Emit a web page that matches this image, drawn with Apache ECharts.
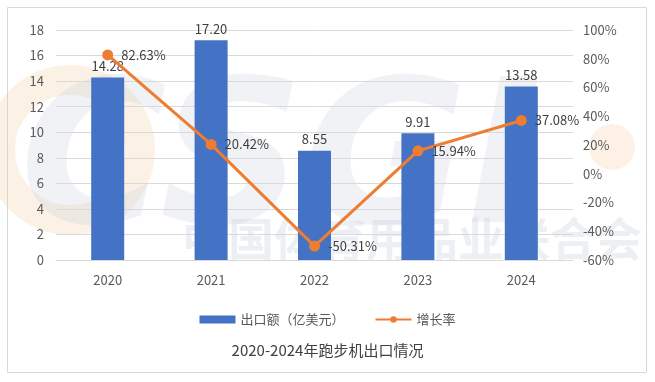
<!DOCTYPE html>
<html><head><meta charset="utf-8">
<script src="https://cdn.jsdelivr.net/npm/echarts@6/dist/echarts.min.js"></script>
<style>html,body{margin:0;padding:0;background:#fff}#c{width:655px;height:382px}</style>
</head><body><div id="c"></div>
<script>
const categories = ['2020','2021','2022','2023','2024'];
const exportValues = [14.28, 17.20, 8.55, 9.91, 13.58];
const growthRates = [82.63, 20.42, -50.31, 15.94, 37.08];
const leftTicks = [0,2,4,6,8,10,12,14,16,18];
const rightTicks = [-60,-40,-20,0,20,40,60,80,100];
const barName = '出口额（亿美元）';
const lineName = '增长率';
const titleText = '2020-2024年跑步机出口情况';

const font = '"Microsoft YaHei","Noto Sans CJK SC",sans-serif';
const chart = echarts.init(document.getElementById('c'));
chart.setOption({
  animation: false,
  textStyle: {fontFamily: font},
  graphic: [
    {type:'rect', shape:{x:7.5,y:7.5,width:639,height:365}, style:{fill:'none',stroke:'#d9d9d9',lineWidth:1}, z:-10},
    {type:'circle', shape:{cx:70,cy:150,r:70}, style:{fill:'none',stroke:'rgba(245,200,150,0.25)',lineWidth:30}, z:-6},
    {type:'circle', shape:{cx:612,cy:147,r:23}, style:{fill:'rgba(250,225,200,0.45)'}, z:-6},
    {type:'text', left:20, top:70, z:-5, style:{text:'CSGI', font:'italic bold 200px "DejaVu Sans", sans-serif', fill:'rgba(200,208,222,0.28)'}},
    {type:'text', left:182, top:216, z:-5, style:{text:'中国体育用品业联合会', font:'bold 46px "Noto Sans CJK SC", sans-serif', fill:'rgba(200,208,222,0.35)'}}
  ],
  title: {text: titleText, left: 'center', top: 338, textStyle:{fontSize:15, fontWeight:'normal', color:'#404040', fontFamily:font}},
  legend: {
    top: 308, left: 'center', itemGap: 30, itemWidth: 36, itemHeight: 8,
    textStyle:{fontSize:13, color:'#595959', fontFamily:font},
    data: [{name: barName, icon:'rect'}, {name: lineName}]
  },
  grid: {left:56, right:82, top:30, bottom:122},
  xAxis: {
    type:'category', data:categories,
    axisLine:{show:true, lineStyle:{color:'#d9d9d9'}}, axisTick:{show:false},
    axisLabel:{color:'#595959', fontSize:13, margin:14}
  },
  yAxis: [
    {type:'value', min:0, max:18, interval:2,
     axisLabel:{color:'#595959', fontSize:13, margin:12},
     splitLine:{lineStyle:{color:'#d9d9d9', width:1}},
     axisLine:{show:false}, axisTick:{show:false}},
    {type:'value', min:-60, max:100, interval:20,
     axisLabel:{color:'#595959', fontSize:13, margin:10, formatter: v => v + '%'},
     splitLine:{show:false}, axisLine:{show:false}, axisTick:{show:false}}
  ],
  series: [
    {name: barName, type:'bar', data: exportValues, barWidth:33,
     itemStyle:{color:'#4472C4'},
     label:{show:true, position:'top', color:'#404040', fontSize:13, formatter: p => p.value.toFixed(2)}},
    {name: lineName, type:'line', yAxisIndex:1, data: growthRates,
     symbol:'circle', symbolSize:11,
     lineStyle:{color:'#ED7D31', width:3}, itemStyle:{color:'#ED7D31'},
     label:{show:true, position:'right', distance:8, color:'#404040', fontSize:13, formatter: p => p.value.toFixed(2) + '%'}}
  ]
});
</script></body></html>
